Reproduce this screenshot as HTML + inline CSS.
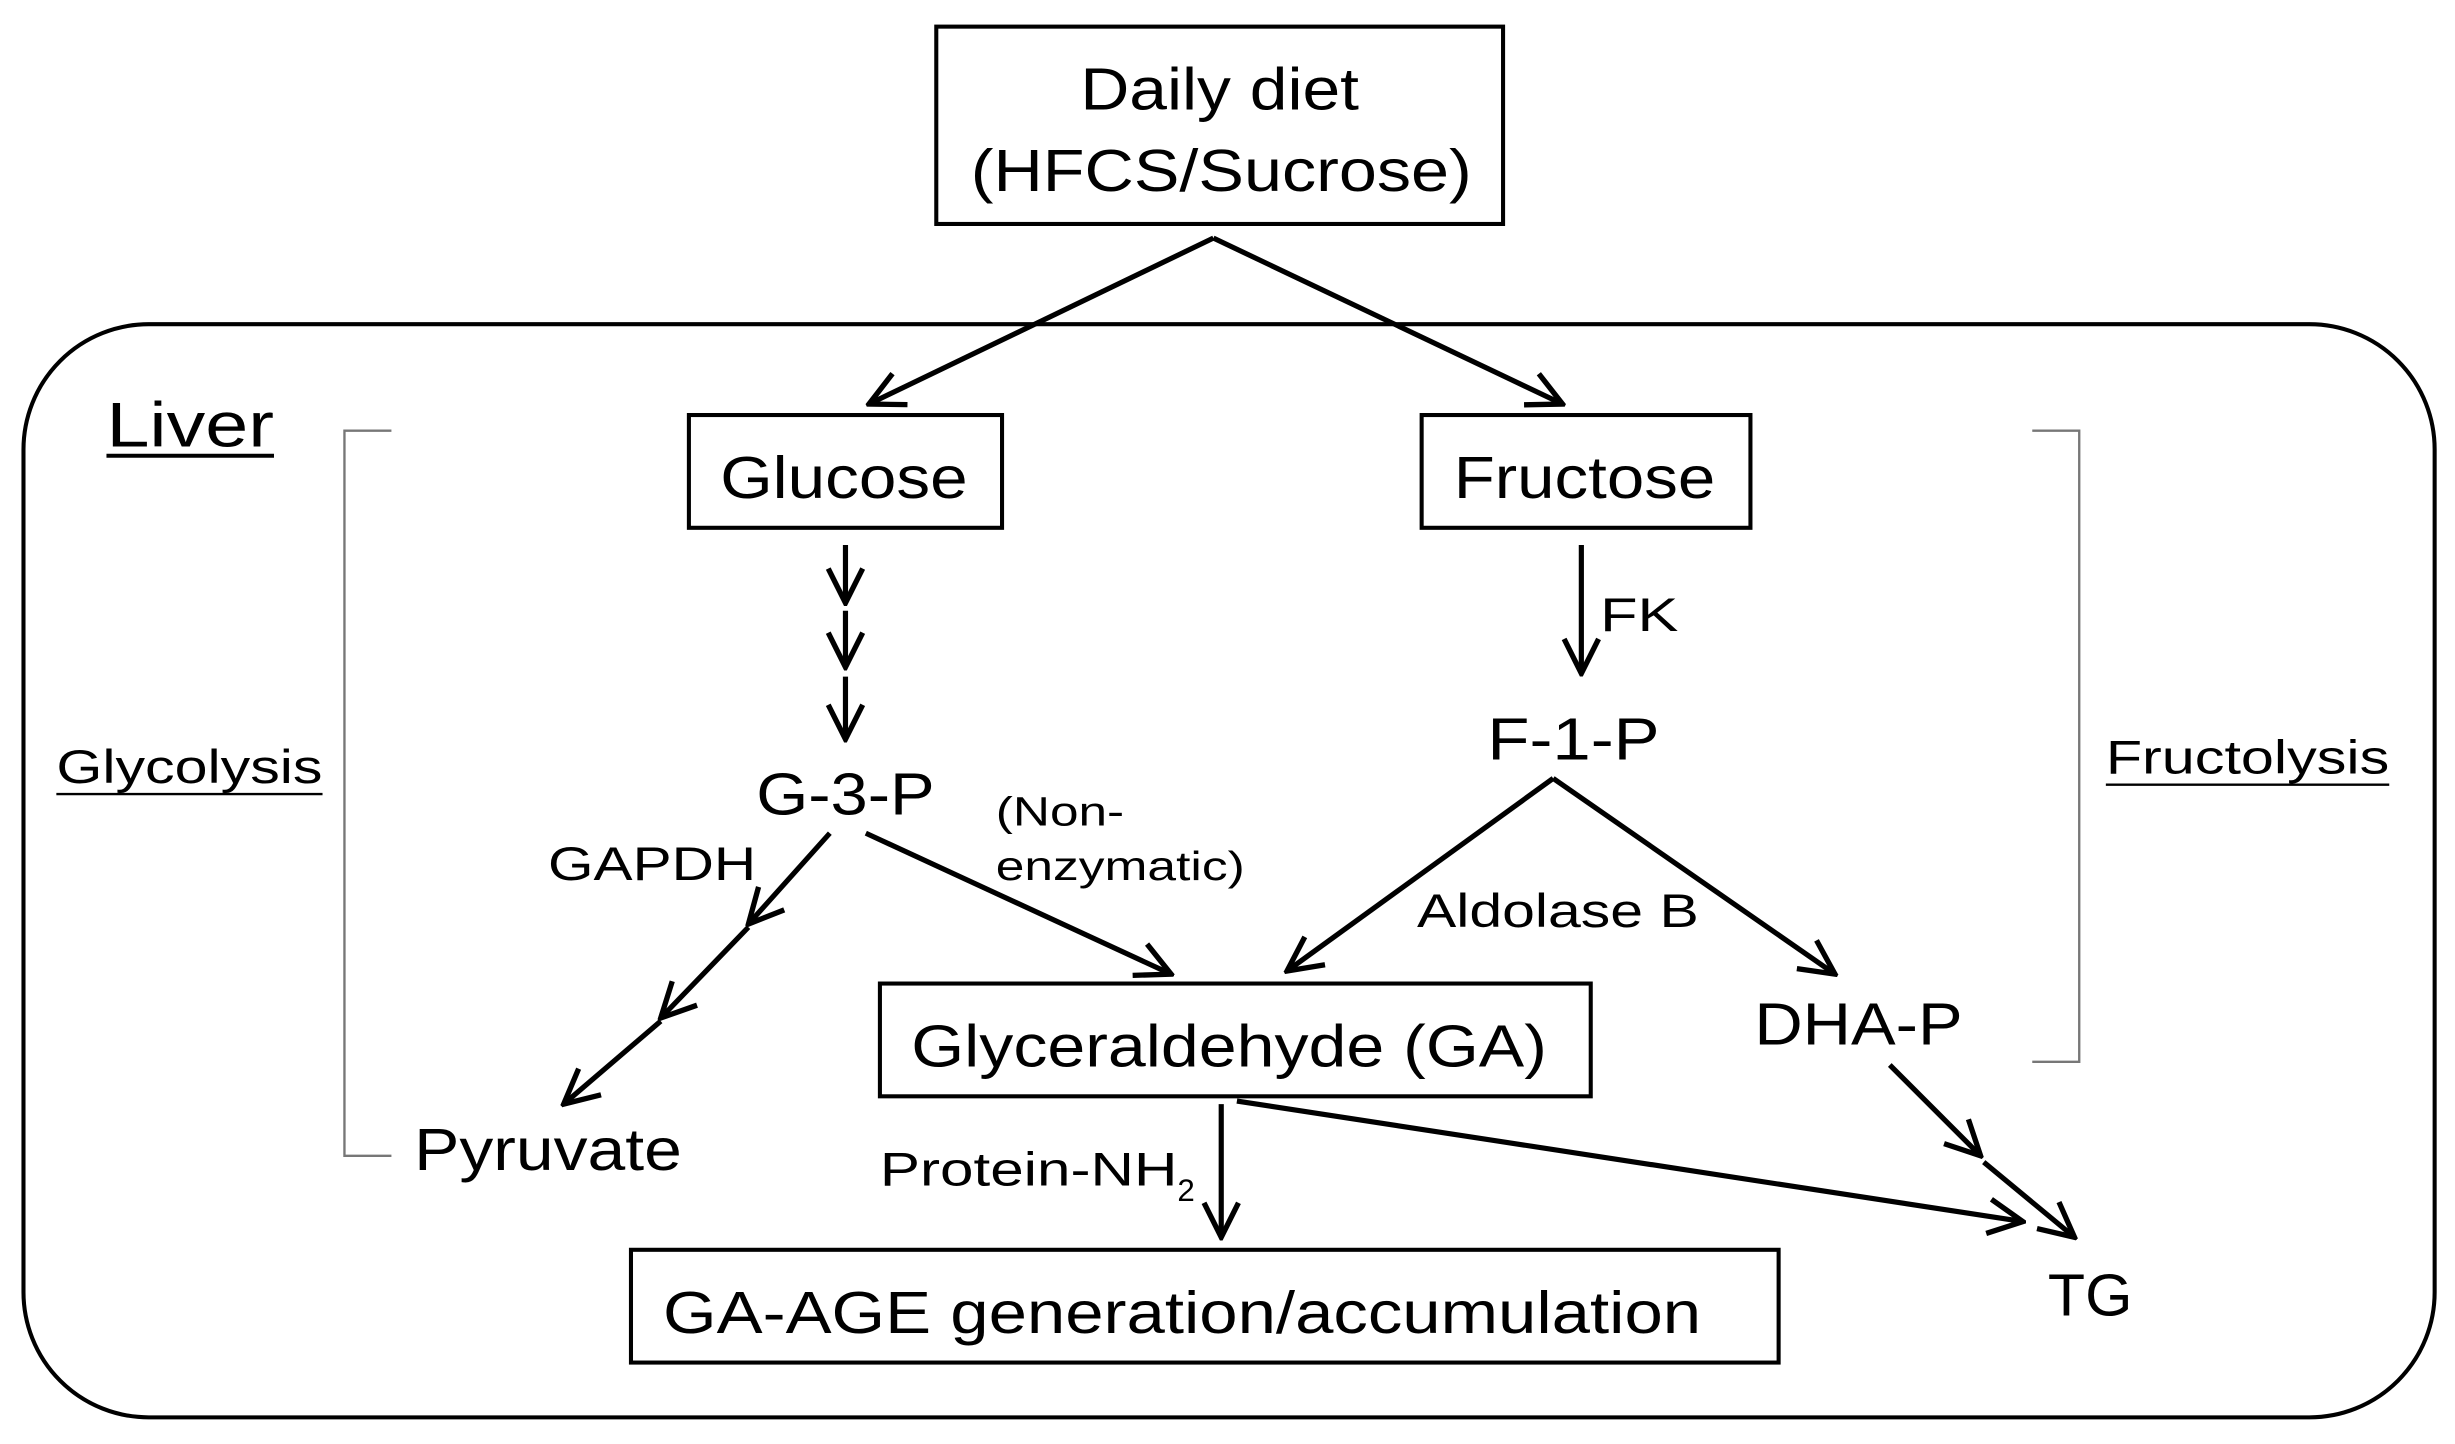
<!DOCTYPE html>
<html><head><meta charset="utf-8"><style>
html,body{margin:0;padding:0;background:#fff;}
svg{display:block;}
text{font-family:"Liberation Sans",sans-serif;fill:#000;}
</style></head><body>
<svg width="2455" height="1444" viewBox="0 0 1568 922" preserveAspectRatio="none" xmlns="http://www.w3.org/2000/svg">
<defs>
<marker id="b" viewBox="0 0 26 26" refX="24" refY="13" markerWidth="26" markerHeight="26" markerUnits="userSpaceOnUse" orient="auto">
<path d="M2,2 L24,13 L2,24" fill="none" stroke="#000" stroke-width="3.4"/>
</marker>
</defs>
<g fill="none" stroke="#000" stroke-width="2.6">
<rect x="15" y="207" width="1540" height="698" rx="80"/>
<rect x="598" y="17" width="362" height="126" />
<rect x="440" y="265" width="200" height="72"/>
<rect x="908" y="265" width="210" height="72"/>
<rect x="562" y="628" width="454" height="72"/>
<rect x="403" y="798" width="733" height="72"/>
</g>
<g fill="none" stroke="#777" stroke-width="1.5">
<polyline points="250,275 220,275 220,738 250,738"/>
<polyline points="1298,275 1328,275 1328,678 1298,678"/>
</g>
<g fill="none" stroke="#000" stroke-width="3.3" marker-end="url(#b)">
<line x1="775" y1="152" x2="555" y2="258"/>
<line x1="775" y1="152" x2="998" y2="258"/>
<line x1="540" y1="348" x2="540" y2="385"/>
<line x1="540" y1="390" x2="540" y2="426"/>
<line x1="540" y1="432" x2="540" y2="472"/>
<line x1="1010" y1="348" x2="1010" y2="430"/>
<line x1="530" y1="532" x2="478" y2="590"/>
<line x1="478" y1="592" x2="422" y2="650"/>
<line x1="422" y1="652" x2="360" y2="705"/>
<line x1="553" y1="532" x2="748" y2="622"/>
<line x1="992" y1="497" x2="822" y2="620"/>
<line x1="992" y1="497" x2="1172" y2="622"/>
<line x1="780" y1="705" x2="780" y2="790"/>
<line x1="790" y1="703" x2="1292" y2="780"/>
<line x1="1207" y1="680" x2="1265" y2="738"/>
<line x1="1267" y1="742" x2="1325" y2="790"/>
</g>
<g font-size="38" text-anchor="middle">
<text x="779" y="70" textLength="178" lengthAdjust="spacingAndGlyphs">Daily diet</text>
<text x="780" y="122" textLength="320" lengthAdjust="spacingAndGlyphs">(HFCS/Sucrose)</text>
<text x="539" y="318" textLength="158" lengthAdjust="spacingAndGlyphs">Glucose</text>
<text x="1012" y="318" textLength="167" lengthAdjust="spacingAndGlyphs">Fructose</text>
<text x="540" y="520" textLength="114" lengthAdjust="spacingAndGlyphs">G-3-P</text>
<text x="1005" y="485" textLength="110" lengthAdjust="spacingAndGlyphs">F-1-P</text>
<text x="785" y="681" textLength="406" lengthAdjust="spacingAndGlyphs">Glyceraldehyde (GA)</text>
<text x="1187" y="667" textLength="133" lengthAdjust="spacingAndGlyphs">DHA-P</text>
<text x="350" y="747" textLength="171" lengthAdjust="spacingAndGlyphs">Pyruvate</text>
<text x="755" y="851" textLength="663" lengthAdjust="spacingAndGlyphs">GA-AGE generation/accumulation</text>
<text x="1335" y="840" textLength="54" lengthAdjust="spacingAndGlyphs">TG</text>
</g>
<g font-size="40">
<text x="68" y="285" textLength="107" lengthAdjust="spacingAndGlyphs">Liver</text>
</g>
<line x1="68" y1="291" x2="175" y2="291" stroke="#000" stroke-width="2.5"/>
<g font-size="30">
<text x="36" y="500" textLength="170" lengthAdjust="spacingAndGlyphs">Glycolysis</text>
<text x="1345" y="494" textLength="181" lengthAdjust="spacingAndGlyphs">Fructolysis</text>
<text x="350" y="562" textLength="133" lengthAdjust="spacingAndGlyphs">GAPDH</text>
<text x="1022" y="403" textLength="50" lengthAdjust="spacingAndGlyphs">FK</text>
<text x="905" y="592" textLength="180" lengthAdjust="spacingAndGlyphs">Aldolase B</text>
<text x="562" y="757" textLength="190" lengthAdjust="spacingAndGlyphs">Protein-NH</text>
<text x="752" y="767" font-size="20">2</text>
</g>
<line x1="36" y1="507" x2="206" y2="507" stroke="#000" stroke-width="1.5"/>
<line x1="1345" y1="501" x2="1526" y2="501" stroke="#000" stroke-width="1.5"/>
<g font-size="26">
<text x="636" y="527" textLength="82" lengthAdjust="spacingAndGlyphs">(Non-</text>
<text x="636" y="562" textLength="159" lengthAdjust="spacingAndGlyphs">enzymatic)</text>
</g>
</svg>
</body></html>
